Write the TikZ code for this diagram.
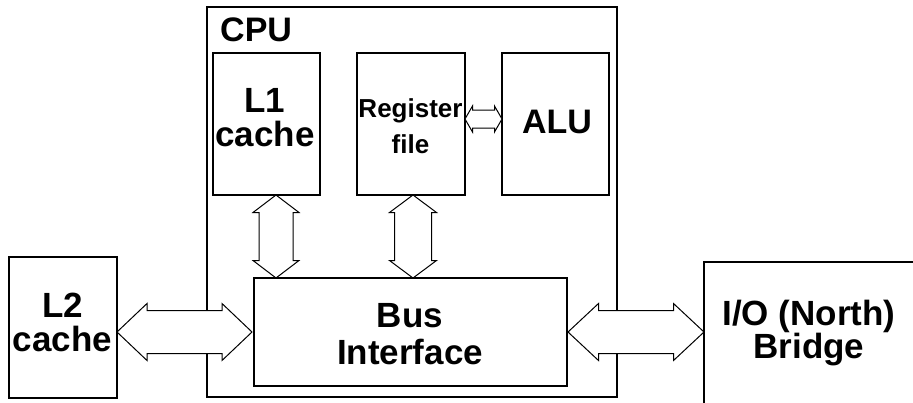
\documentclass[tikz,border=0pt]{standalone}
\usepackage{fontspec}
\setmainfont{Liberation Sans}
\usetikzlibrary{calc}
\newcommand{\hdblarrow}[5]{%
  \draw[arr] (#1) -- ([shift={(#3,#4)}]#1) -- ([shift={(#3,#5)}]#1) -- ([shift={(-#3,#5)}]#2) -- ([shift={(-#3,#4)}]#2) -- (#2) -- ([shift={(-#3,-#4)}]#2) -- ([shift={(-#3,-#5)}]#2) -- ([shift={(#3,-#5)}]#1) -- ([shift={(#3,-#4)}]#1) -- cycle;}
\newcommand{\vdblarrow}[5]{%
  \draw[arr] (#1) -- ([shift={(#4,-#3)}]#1) -- ([shift={(#5,-#3)}]#1) -- ([shift={(#5,#3)}]#2) -- ([shift={(#4,#3)}]#2) -- (#2) -- ([shift={(-#4,#3)}]#2) -- ([shift={(-#5,#3)}]#2) -- ([shift={(-#5,-#3)}]#1) -- ([shift={(-#4,-#3)}]#1) -- cycle;}
\begin{document}
\begin{tikzpicture}[x=1pt,y=1pt,
  box/.style={draw, line width=1.5pt, inner sep=0pt, outer sep=0pt, anchor=north west},
  lbl/.style={inner sep=0pt, anchor=north, align=center, font=\bfseries\fontsize{35}{34}\selectfont},
  arr/.style={draw, line width=1pt, fill=white, line join=miter}]
\useasboundingbox (0,0) rectangle (913,-402);
\clip (0,0) rectangle (913,-402);
% boxes
\node[box, minimum width=410pt, minimum height=390pt] (cpu) at (207,-7) {};
\node[box, minimum width=107pt, minimum height=142pt] (l1) at (213,-53) {};
\node[box, minimum width=108pt, minimum height=142pt] (reg) at (357,-53) {};
\node[box, minimum width=107pt, minimum height=142pt] (alu) at (502,-53) {};
\node[box, minimum width=108pt, minimum height=141pt] (l2) at (9,-257) {};
\node[box, minimum width=313pt, minimum height=108pt] (bus) at (254,-278) {};
\node[box, minimum width=230pt, minimum height=170pt] (io) at (704,-262) {};
% labels
\node[lbl, anchor=north west, font=\bfseries\fontsize{34}{34}\selectfont] (cput) at (220,-18) {CPU};
\node[lbl] (l1t) at (265,-88) {L1\\cache};
\node[lbl, font=\bfseries\fontsize{26}{36}\selectfont] (regt) at (410.5,-98) {Register\\file};
\node[lbl, font=\bfseries\fontsize{34}{34}\selectfont] (alut) at (557,-110) {ALU};
\node[lbl] (l2t) at (62.5,-293) {L2\\cache};
\node[lbl, font=\bfseries\fontsize{35}{37}\selectfont] (bust) at (410,-303) {Bus\\Interface};
\node[lbl, font=\bfseries\fontsize{35}{33}\selectfont] (iot) at (809,-300) {I/O (North)\\Bridge};
% connector end points
\coordinate (p1) at (l2.east |- bus.west);
\coordinate (q1) at ([xshift=-2pt]bus.west);
\coordinate (p2) at ([xshift=1pt]bus.east);
\coordinate (q2) at (io.west |- bus.east);
\coordinate (p3) at ([xshift=9.5pt]l1.south);
\coordinate (q3) at (p3 |- bus.north);
\coordinate (p4) at ([xshift=2pt]reg.south);
\coordinate (q4) at (p4 |- bus.north);
\coordinate (p5) at ([yshift=5pt]reg.east);
\coordinate (q5) at (alu.west |- p5);
% double arrows
\hdblarrow{p1}{q1}{30}{28.5}{21.5}
\hdblarrow{p2}{q2}{30.5}{28.5}{21.5}
\vdblarrow{p3}{q3}{17.5}{23}{17}
\vdblarrow{p4}{q4}{17.5}{23.5}{18.5}
\hdblarrow{p5}{q5}{7.5}{13}{9}
\end{tikzpicture}
\end{document}
